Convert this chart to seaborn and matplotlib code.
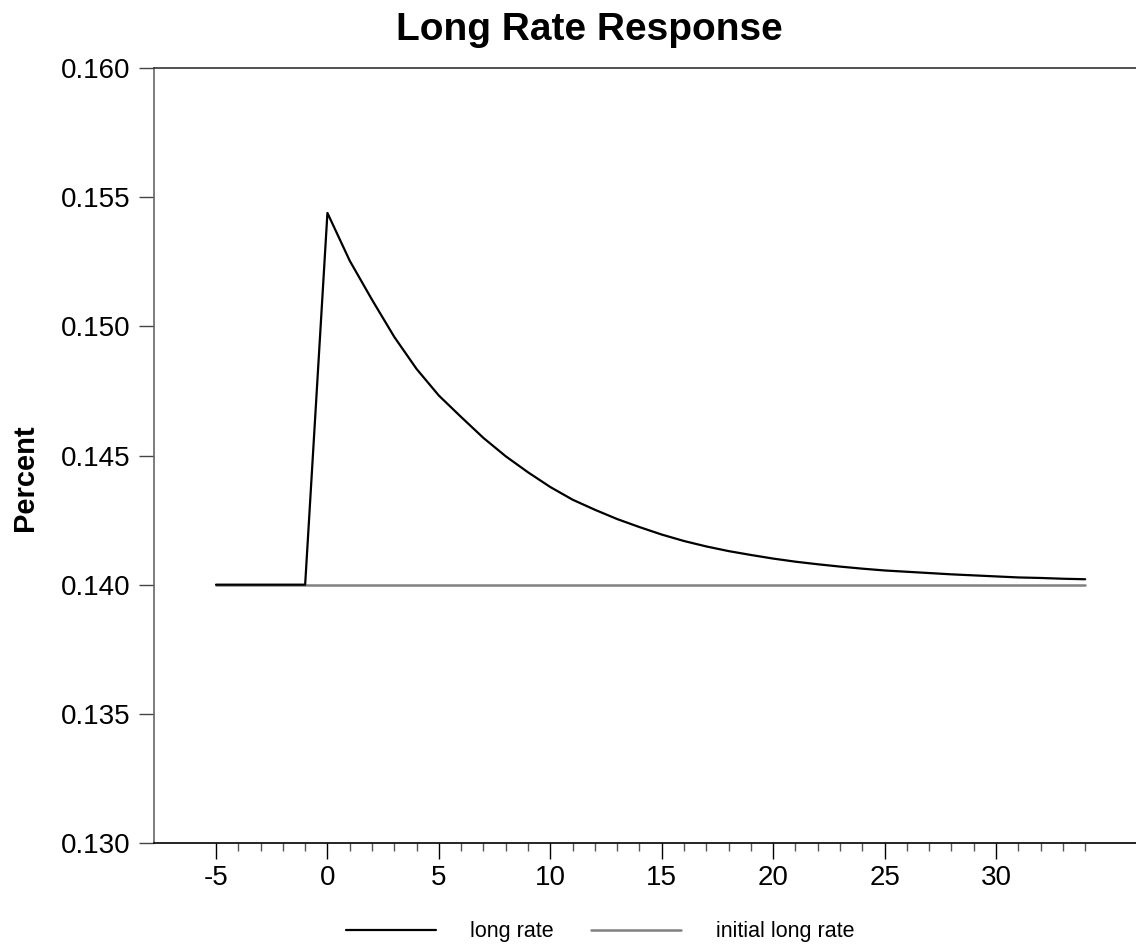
import numpy as np
import pandas as pd
import matplotlib
matplotlib.use("Agg")
import matplotlib.pyplot as plt
import seaborn as sns

periods = list(range(-5, 35))
long_rate = [0.140, 0.140, 0.140, 0.140, 0.140,
             0.15439, 0.15254, 0.15103, 0.14959, 0.14835,
             0.14732, 0.14649, 0.14568, 0.14497, 0.14435,
             0.14378, 0.14329, 0.14290, 0.14254, 0.14223,
             0.14194, 0.14169, 0.14148, 0.14130, 0.14115,
             0.14101, 0.14089, 0.14079, 0.14070, 0.14062,
             0.14055, 0.14050, 0.14045, 0.14040, 0.14036,
             0.14032, 0.14028, 0.14026, 0.14023, 0.14021]
initial_rate = [0.140] * len(periods)
x_ticks = [-5, 0, 5, 10, 15, 20, 25, 30]
y_ticks = [0.130, 0.135, 0.140, 0.145, 0.150, 0.155, 0.160]

df = pd.DataFrame({"period": periods, "long rate": long_rate,
                   "initial long rate": initial_rate})

sns.set_style("white")
plt.rcParams['font.family'] = ['Liberation Sans', 'DejaVu Sans']
plt.rcParams['text.color'] = 'black'
plt.rcParams['xtick.labelcolor'] = 'black'
plt.rcParams['ytick.labelcolor'] = 'black'

fig = plt.figure(figsize=(11.36, 9.47), dpi=100)
ax = fig.add_axes([0.1356, 0.1098, 0.8644, 0.8184])

sns.lineplot(data=df, x="period", y="long rate", color="black", lw=1.6,
             label="long rate", ax=ax, zorder=3)
sns.lineplot(data=df, x="period", y="initial long rate", color="#808080", lw=1.8,
             label="initial long rate", ax=ax, zorder=2)

ax.set_xticks(x_ticks)
ax.set_xticklabels([str(v) for v in x_ticks])
ax.set_xticks(periods, minor=True)
ax.set_yticks(y_ticks)
ax.set_yticklabels([f"{v:.3f}" for v in y_ticks])
ax.set_xlim(-7.78, 36.28)
ax.set_ylim(0.130, 0.160)

ax.spines['right'].set_visible(False)
ax.spines['top'].set_color("#333333")
ax.spines['bottom'].set_color("black")
ax.spines['left'].set_color("#666666")
for s in ax.spines.values():
    s.set_linewidth(1.2)

ax.tick_params(axis='y', which='major', direction='out', length=11, width=1,
               color="#444444", labelsize=20, pad=6, left=True)
ax.tick_params(axis='x', which='major', direction='out', length=11.5, width=1,
               color="black", labelsize=20, pad=4, bottom=True)
ax.tick_params(axis='x', which='minor', direction='out', length=6, width=1,
               color="#555555", bottom=True)

ax.set_xlabel("")
ax.set_ylabel("Percent", fontsize=21, fontweight="bold", color="black")
ax.yaxis.set_label_coords(-0.117, 0.472)

fig.text(0.5185, 0.968, "Long Rate Response", ha="center", va="center",
         fontsize=28, fontweight="bold")

ax.legend(loc="center", bbox_to_anchor=(0.528, 0.016), bbox_transform=fig.transFigure,
          ncol=2, frameon=False, fontsize=15.5, handlelength=4.2,
          handletextpad=1.6, columnspacing=1.7)

fig.savefig("out.png", dpi=100)
